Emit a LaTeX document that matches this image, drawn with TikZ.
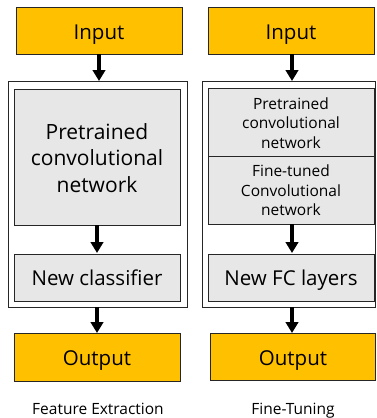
\documentclass[tikz,border=0pt]{standalone}
\usepackage{fontspec}
\setmainfont{Open Sans}
\usetikzlibrary{arrows.meta}
\definecolor{orangefill}{HTML}{FFC000}
\definecolor{grayfill}{HTML}{E7E7E7}
\definecolor{edge}{HTML}{262626}
\begin{document}
\begin{tikzpicture}[x=1pt,y=-1pt,
  iobox/.style={draw=edge,line width=0.9pt,fill=orangefill},
  graybox/.style={draw=edge,line width=0.9pt,fill=grayfill},
  outerbox/.style={draw=edge,line width=0.8pt,fill=white},
  onetxt/.style={anchor=base,inner sep=0pt,font=\fontsize{20.5}{24}\selectfont},
  bigtxt/.style={align=center,font=\fontsize{21}{26.3}\selectfont},
  smalltxt/.style={align=center,font=\fontsize{15.5}{19.5}\selectfont},
  caption/.style={anchor=base,inner sep=0pt,font=\fontsize{15.5}{18}\selectfont},
  flow/.style={-{Triangle[width=12.5pt,length=11pt]},line width=3.5pt,black}]
\useasboundingbox (0,0) rectangle (376,418);
% outer boxes
\draw[outerbox] (8,81) rectangle (187,307);
\draw[outerbox] (202,81) rectangle (375.5,307);
% left column
\draw[iobox] (16,7) rectangle (182,54);
\node[onetxt] (inL) at (99,39.3) {Input};
\draw[graybox] (14,89) rectangle (180,225);
\node[bigtxt] (preL) at (97,158) {Pretrained\\convolutional\\network};
\draw[graybox] (14,254) rectangle (180,301);
\node[onetxt] (clsL) at (97,285) {New classifier};
\draw[iobox] (14,333) rectangle (180,381);
\node[onetxt] (outL) at (97,365) {Output};
\node[caption] (capL) at (98,414) {Feature Extraction};
% right column
\draw[iobox] (208,7) rectangle (374,54);
\node[onetxt] (inR) at (291,39.3) {Input};
\draw[graybox] (208,88) rectangle (374,224);
\draw[edge,line width=0.9pt] (208,156) -- (374,156);
\node[smalltxt] (preR) at (291,123) {Pretrained\\convolutional\\network};
\node[smalltxt] (ftR) at (291,190.5) {Fine-tuned\\Convolutional\\network};
\draw[graybox] (208,254) rectangle (374,301);
\node[onetxt] (fcR) at (291,285) {New FC layers};
\draw[iobox] (210,333) rectangle (375.5,380);
\node[onetxt] (outR) at (293,365) {Output};
\node[caption] (capR) at (293,414) {Fine-Tuning};
% coordinates for arrows
\coordinate (a1s) at (99,54); \coordinate (a1e) at (99,81);
\coordinate (a2s) at (97,225); \coordinate (a2e) at (97,253);
\coordinate (a3s) at (97,307); \coordinate (a3e) at (97,333);
\coordinate (b1s) at (292,54); \coordinate (b1e) at (292,81);
\coordinate (b2s) at (292,224); \coordinate (b2e) at (292,253);
\coordinate (b3s) at (292,307); \coordinate (b3e) at (292,333);
\draw[flow] (a1s) -- (a1e);
\draw[flow] (a2s) -- (a2e);
\draw[flow] (a3s) -- (a3e);
\draw[flow] (b1s) -- (b1e);
\draw[flow] (b2s) -- (b2e);
\draw[flow] (b3s) -- (b3e);
\end{tikzpicture}
\end{document}
